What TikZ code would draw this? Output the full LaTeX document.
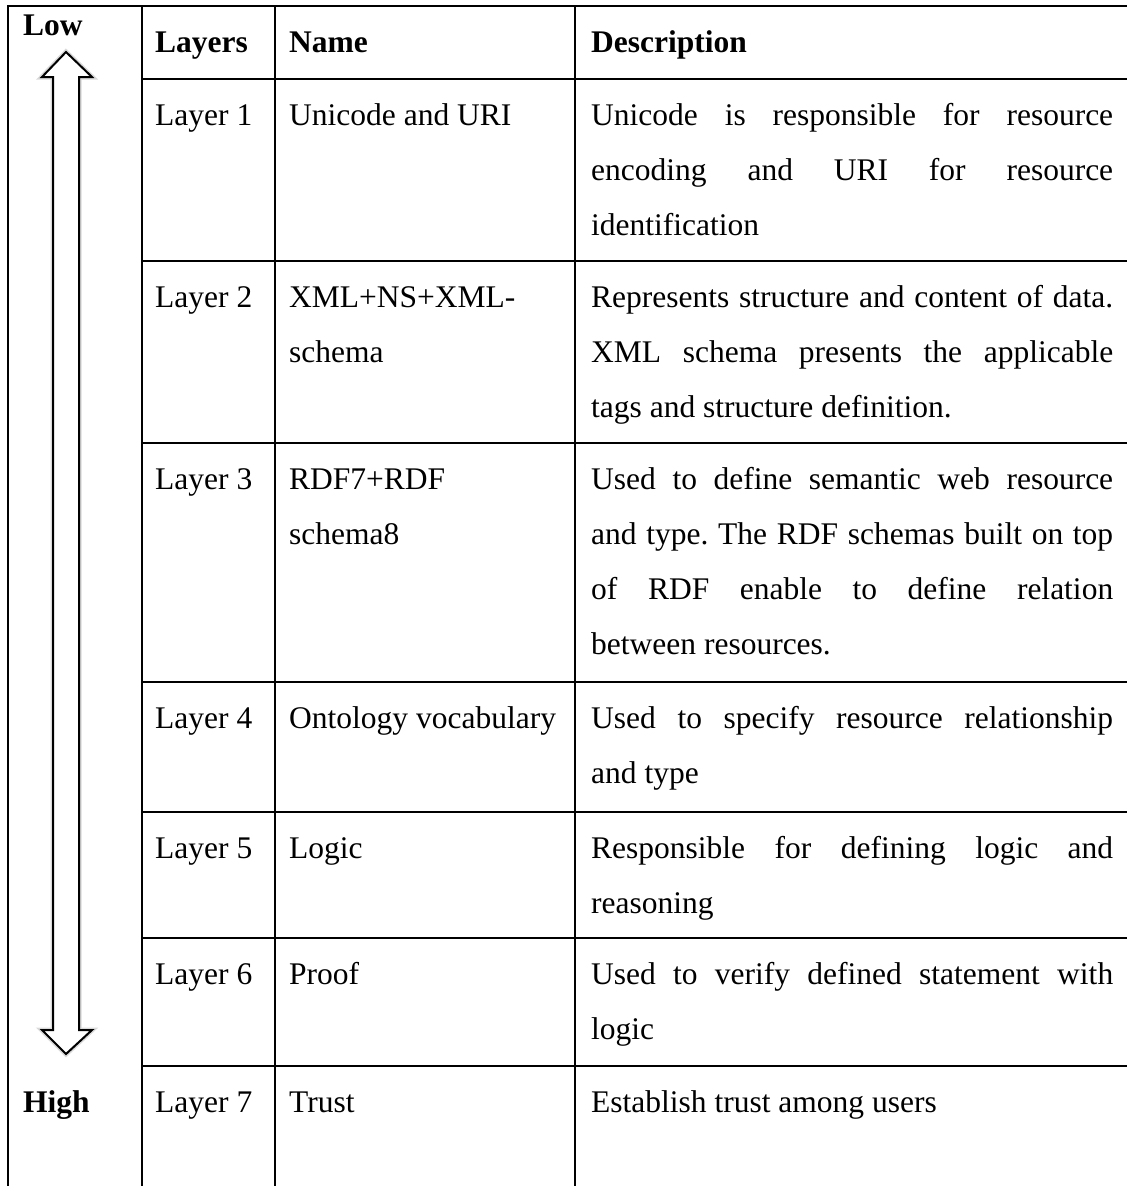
\documentclass[tikz,border=0pt]{standalone}
\usepackage{fontspec}
\setmainfont{Liberation Serif}
\frenchspacing
\newcommand\jline[1]{\makebox[522pt][s]{#1}}
\begin{document}
\begin{tikzpicture}[x=1pt,y=-1pt,
  rule/.style={line width=2.4pt},
  cell/.style={anchor=base west, inner sep=0pt, font=\fontsize{31.5}{38}\selectfont},
  headcell/.style={cell, font=\fontsize{31.5}{38}\selectfont\bfseries},
  halo/.style={draw=black!15, line width=5pt, line join=miter},
  arrowbody/.style={draw=black, line width=2pt, fill=white, line join=miter}
]
\useasboundingbox (0,0) rectangle (1127,1186);

% grid of the table
\coordinate (tl) at (8,6);
\draw[rule] (8,1186) -- (tl) -- (1127,6);
\foreach \x in {142,275,575} \draw[rule] (\x,6) -- (\x,1186);
\foreach \y in {79,261,443,682,812,938,1066} \draw[rule] (142,\y) -- (1127,\y);

% double-headed arrow from Low to High
\def\arrowpath{(66,52) -- (92,77) -- (79,77) -- (79,1030) -- (92,1030) -- (66,1054)
  -- (42,1030) -- (53,1030) -- (53,77) -- (42,77) -- cycle}
\draw[halo] \arrowpath;
\draw[arrowbody] \arrowpath;

\node[headcell] (low) at (23,35) {Low};
\node[headcell] (high) at (23,1112) {High};

% header row
\node[headcell] (hlayers) at (155,52) {Layers};
\node[headcell] (hname) at (289,52) {Name};
\node[headcell] (hdesc) at (591,52) {Description};

% layer 1
\node[cell] (l1) at (155,125) {Layer 1};
\node[cell] (n1) at (289,125) {Unicode and URI};
\node[cell] (d1a) at (591,125) {\jline{Unicode is responsible for resource}};
\node[cell] (d1b) at (591,180) {\jline{encoding and URI for resource}};
\node[cell] (d1c) at (591,235) {identification};

% layer 2
\node[cell] (l2) at (155,307) {Layer 2};
\node[cell] (n2a) at (289,307) {XML+NS+XML-};
\node[cell] (n2b) at (289,362) {schema};
\node[cell] (d2a) at (591,307) {\jline{Represents structure and content of data.}};
\node[cell] (d2b) at (591,362) {\jline{XML schema presents the applicable}};
\node[cell] (d2c) at (591,417) {tags and structure definition.};

% layer 3
\node[cell] (l3) at (155,489) {Layer 3};
\node[cell] (n3a) at (289,489) {RDF7+RDF};
\node[cell] (n3b) at (289,544) {schema8};
\node[cell] (d3a) at (591,489) {\jline{Used to define semantic web resource}};
\node[cell] (d3b) at (591,544) {\jline{and type. The RDF schemas built on top}};
\node[cell] (d3c) at (591,599) {\jline{of RDF enable to define relation}};
\node[cell] (d3d) at (591,654) {between resources.};

% layer 4
\node[cell] (l4) at (155,728) {Layer 4};
\node[cell] (n4) at (289,728) {Ontology vocabulary};
\node[cell] (d4a) at (591,728) {\jline{Used to specify resource relationship}};
\node[cell] (d4b) at (591,783) {and type};

% layer 5
\node[cell] (l5) at (155,858) {Layer 5};
\node[cell] (n5) at (289,858) {Logic};
\node[cell] (d5a) at (591,858) {\jline{Responsible for defining logic and}};
\node[cell] (d5b) at (591,913) {reasoning};

% layer 6
\node[cell] (l6) at (155,984) {Layer 6};
\node[cell] (n6) at (289,984) {Proof};
\node[cell] (d6a) at (591,984) {\jline{Used to verify defined statement with}};
\node[cell] (d6b) at (591,1039) {logic};

% layer 7
\node[cell] (l7) at (155,1112) {Layer 7};
\node[cell] (n7) at (289,1112) {Trust};
\node[cell] (d7) at (591,1112) {Establish trust among users};
\end{tikzpicture}
\end{document}
